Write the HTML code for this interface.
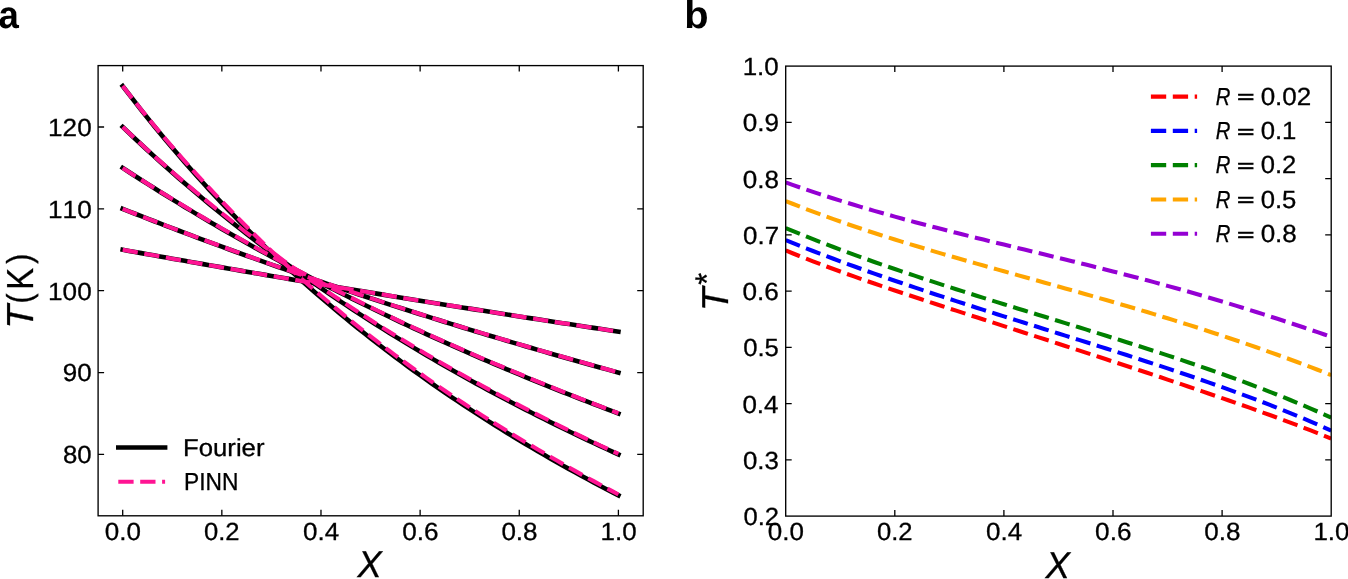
<!DOCTYPE html>
<html lang="en"><head><meta charset="utf-8"><title>Figure</title>
<style>
html,body{margin:0;padding:0;background:#fff}
body{width:1348px;height:579px;overflow:hidden}
svg{display:block;will-change:transform}
text{font-family:"Liberation Sans",sans-serif;fill:#000;font-kerning:none;text-rendering:geometricPrecision}
text.r,text.i{stroke:#000;stroke-width:.3px}
text.i{font-style:italic}
text.b{font-weight:bold}
</style></head><body>
<svg width="1348" height="579" viewBox="0 0 1348 579" role="img" aria-label="Two-panel chart: (a) T(K) vs X, Fourier vs PINN; (b) T* vs X for several R">
<rect x="0" y="0" width="1348" height="579" fill="#fff"/>
<defs>
<clipPath id="cb"><rect x="785.7" y="66.1" width="545.50" height="450.00"/></clipPath>
</defs>
<polyline points="122.70,249.77 128.90,250.89 135.09,252.01 141.29,253.13 147.49,254.24 153.68,255.35 159.88,256.46 166.07,257.56 172.27,258.67 178.47,259.76 184.66,260.86 190.86,261.96 197.06,263.05 203.25,264.14 209.45,265.22 215.64,266.31 221.84,267.39 228.04,268.47 234.23,269.54 240.43,270.62 246.62,271.69 252.82,272.76 259.02,273.82 265.21,274.89 271.41,275.95 277.61,277.01 283.80,278.06 290.00,279.12 296.19,280.17 302.39,281.22 308.59,282.26 314.78,283.31 320.98,284.35 327.18,285.39 333.37,286.42 339.57,287.46 345.76,288.49 351.96,289.52 358.16,290.55 364.35,291.57 370.55,292.59 376.75,293.61 382.94,294.63 389.14,295.65 395.33,296.66 401.53,297.67 407.73,298.68 413.92,299.68 420.12,300.69 426.32,301.69 432.51,302.69 438.71,303.68 444.90,304.68 451.10,305.67 457.30,306.66 463.49,307.65 469.69,308.63 475.89,309.62 482.08,310.60 488.28,311.58 494.47,312.55 500.67,313.53 506.87,314.50 513.06,315.47 519.26,316.44 525.46,317.40 531.65,318.36 537.85,319.33 544.04,320.29 550.24,321.24 556.44,322.20 562.63,323.15 568.83,324.10 575.03,325.05 581.22,325.99 587.42,326.94 593.62,327.88 599.81,328.82 606.01,329.76 612.20,330.69 618.40,331.63" fill="none" stroke="#000" stroke-width="4.6" stroke-linecap="square" stroke-linejoin="round"/>
<polyline points="122.70,208.85 128.90,211.30 135.09,213.75 141.29,216.18 147.49,218.60 153.68,221.00 159.88,223.40 166.07,225.78 172.27,228.16 178.47,230.52 184.66,232.86 190.86,235.20 197.06,237.53 203.25,239.84 209.45,242.14 215.64,244.43 221.84,246.71 228.04,248.98 234.23,251.24 240.43,253.49 246.62,255.72 252.82,257.95 259.02,260.16 265.21,262.37 271.41,264.56 277.61,266.74 283.80,268.92 290.00,271.08 296.19,273.23 302.39,275.37 308.59,277.50 314.78,279.62 320.98,281.74 327.18,283.84 333.37,285.93 339.57,288.01 345.76,290.08 351.96,292.15 358.16,294.20 364.35,296.24 370.55,298.28 376.75,300.30 382.94,302.32 389.14,304.32 395.33,306.32 401.53,308.31 407.73,310.28 413.92,312.25 420.12,314.22 426.32,316.17 432.51,318.11 438.71,320.04 444.90,321.97 451.10,323.89 457.30,325.79 463.49,327.69 469.69,329.58 475.89,331.47 482.08,333.34 488.28,335.21 494.47,337.06 500.67,338.91 506.87,340.75 513.06,342.59 519.26,344.41 525.46,346.23 531.65,348.04 537.85,349.84 544.04,351.63 550.24,353.42 556.44,355.20 562.63,356.97 568.83,358.73 575.03,360.48 581.22,362.23 587.42,363.97 593.62,365.70 599.81,367.43 606.01,369.14 612.20,370.85 618.40,372.55" fill="none" stroke="#000" stroke-width="4.6" stroke-linecap="square" stroke-linejoin="round"/>
<polyline points="122.70,167.92 128.90,171.96 135.09,175.97 141.29,179.94 147.49,183.89 153.68,187.80 159.88,191.68 166.07,195.54 172.27,199.36 178.47,203.15 184.66,206.92 190.86,210.65 197.06,214.36 203.25,218.04 209.45,221.69 215.64,225.31 221.84,228.91 228.04,232.48 234.23,236.02 240.43,239.54 246.62,243.03 252.82,246.49 259.02,249.93 265.21,253.35 271.41,256.74 277.61,260.10 283.80,263.44 290.00,266.75 296.19,270.04 302.39,273.31 308.59,276.56 314.78,279.78 320.98,282.97 327.18,286.15 333.37,289.30 339.57,292.43 345.76,295.54 351.96,298.63 358.16,301.69 364.35,304.74 370.55,307.76 376.75,310.76 382.94,313.74 389.14,316.70 395.33,319.64 401.53,322.56 407.73,325.46 413.92,328.34 420.12,331.20 426.32,334.04 432.51,336.86 438.71,339.67 444.90,342.45 451.10,345.22 457.30,347.97 463.49,350.69 469.69,353.41 475.89,356.10 482.08,358.78 488.28,361.43 494.47,364.07 500.67,366.70 506.87,369.30 513.06,371.89 519.26,374.47 525.46,377.02 531.65,379.56 537.85,382.09 544.04,384.59 550.24,387.09 556.44,389.56 562.63,392.02 568.83,394.47 575.03,396.90 581.22,399.31 587.42,401.71 593.62,404.09 599.81,406.46 606.01,408.82 612.20,411.16 618.40,413.48" fill="none" stroke="#000" stroke-width="4.6" stroke-linecap="square" stroke-linejoin="round"/>
<polyline points="122.70,126.99 128.90,132.90 135.09,138.75 141.29,144.53 147.49,150.25 153.68,155.90 159.88,161.49 166.07,167.03 172.27,172.50 178.47,177.92 184.66,183.28 190.86,188.58 197.06,193.82 203.25,199.01 209.45,204.15 215.64,209.23 221.84,214.26 228.04,219.24 234.23,224.17 240.43,229.04 246.62,233.87 252.82,238.65 259.02,243.38 265.21,248.06 271.41,252.70 277.61,257.29 283.80,261.84 290.00,266.34 296.19,270.79 302.39,275.21 308.59,279.58 314.78,283.91 320.98,288.19 327.18,292.44 333.37,296.64 339.57,300.81 345.76,304.94 351.96,309.02 358.16,313.07 364.35,317.08 370.55,321.06 376.75,325.00 382.94,328.90 389.14,332.76 395.33,336.59 401.53,340.39 407.73,344.15 413.92,347.88 420.12,351.57 426.32,355.23 432.51,358.86 438.71,362.45 444.90,366.02 451.10,369.55 457.30,373.05 463.49,376.52 469.69,379.97 475.89,383.38 482.08,386.76 488.28,390.11 494.47,393.44 500.67,396.73 506.87,400.00 513.06,403.24 519.26,406.45 525.46,409.64 531.65,412.80 537.85,415.93 544.04,419.04 550.24,422.12 556.44,425.18 562.63,428.21 568.83,431.21 575.03,434.20 581.22,437.15 587.42,440.09 593.62,443.00 599.81,445.89 606.01,448.75 612.20,451.59 618.40,454.41" fill="none" stroke="#000" stroke-width="4.6" stroke-linecap="square" stroke-linejoin="round"/>
<polyline points="122.70,86.06 128.90,94.18 135.09,102.19 141.29,110.07 147.49,117.85 153.68,125.51 159.88,133.06 166.07,140.51 172.27,147.85 178.47,155.09 184.66,162.23 190.86,169.27 197.06,176.22 203.25,183.07 209.45,189.83 215.64,196.50 221.84,203.08 228.04,209.57 234.23,215.97 240.43,222.30 246.62,228.54 252.82,234.70 259.02,240.78 265.21,246.78 271.41,252.70 277.61,258.56 283.80,264.33 290.00,270.04 296.19,275.67 302.39,281.24 308.59,286.74 314.78,292.17 320.98,297.53 327.18,302.83 333.37,308.06 339.57,313.24 345.76,318.35 351.96,323.40 358.16,328.39 364.35,333.32 370.55,338.20 376.75,343.02 382.94,347.78 389.14,352.49 395.33,357.15 401.53,361.75 407.73,366.30 413.92,370.80 420.12,375.25 426.32,379.65 432.51,384.00 438.71,388.31 444.90,392.57 451.10,396.78 457.30,400.94 463.49,405.06 469.69,409.14 475.89,413.17 482.08,417.16 488.28,421.11 494.47,425.02 500.67,428.89 506.87,432.71 513.06,436.50 519.26,440.24 525.46,443.95 531.65,447.62 537.85,451.26 544.04,454.85 550.24,458.41 556.44,461.94 562.63,465.43 568.83,468.88 575.03,472.31 581.22,475.69 587.42,479.05 593.62,482.37 599.81,485.66 606.01,488.92 612.20,492.14 618.40,495.34" fill="none" stroke="#000" stroke-width="4.6" stroke-linecap="square" stroke-linejoin="round"/>
<polyline points="122.70,249.77 128.90,250.89 135.09,252.01 141.29,253.12 147.49,254.23 153.68,255.34 159.88,256.45 166.07,257.55 172.27,258.65 178.47,259.75 184.66,260.84 190.86,261.93 197.06,263.02 203.25,264.11 209.45,265.20 215.64,266.28 221.84,267.36 228.04,268.44 234.23,269.51 240.43,270.59 246.62,271.66 252.82,272.73 259.02,273.79 265.21,274.86 271.41,275.92 277.61,276.97 283.80,278.03 290.00,279.08 296.19,280.14 302.39,281.18 308.59,282.23 314.78,283.27 320.98,284.32 327.18,285.36 333.37,286.39 339.57,287.43 345.76,288.46 351.96,289.49 358.16,290.51 364.35,291.54 370.55,292.56 376.75,293.58 382.94,294.60 389.14,295.61 395.33,296.63 401.53,297.64 407.73,298.65 413.92,299.65 420.12,300.65 426.32,301.66 432.51,302.65 438.71,303.65 444.90,304.65 451.10,305.64 457.30,306.63 463.49,307.62 469.69,308.60 475.89,309.58 482.08,310.56 488.28,311.54 494.47,312.52 500.67,313.49 506.87,314.47 513.06,315.44 519.26,316.40 525.46,317.37 531.65,318.33 537.85,319.29 544.04,320.25 550.24,321.21 556.44,322.17 562.63,323.12 568.83,324.07 575.03,325.02 581.22,325.97 587.42,326.92 593.62,327.86 599.81,328.80 606.01,329.74 612.20,330.68 618.40,331.61" fill="none" stroke="#ff1493" stroke-width="4.1" stroke-dasharray="15.3,6.6" stroke-linejoin="round"/>
<polyline points="122.70,208.85 128.90,211.29 135.09,213.72 141.29,216.14 147.49,218.55 153.68,220.95 159.88,223.33 166.07,225.70 172.27,228.06 178.47,230.41 184.66,232.75 190.86,235.07 197.06,237.39 203.25,239.69 209.45,241.98 215.64,244.26 221.84,246.53 228.04,248.80 234.23,251.06 240.43,253.30 246.62,255.54 252.82,257.77 259.02,259.98 265.21,262.18 271.41,264.38 277.61,266.56 283.80,268.73 290.00,270.90 296.19,273.05 302.39,275.19 308.59,277.32 314.78,279.44 320.98,281.55 327.18,283.65 333.37,285.75 339.57,287.83 345.76,289.90 351.96,291.96 358.16,294.02 364.35,296.06 370.55,298.09 376.75,300.12 382.94,302.13 389.14,304.14 395.33,306.14 401.53,308.12 407.73,310.10 413.92,312.07 420.12,314.03 426.32,315.98 432.51,317.93 438.71,319.86 444.90,321.79 451.10,323.70 457.30,325.61 463.49,327.51 469.69,329.40 475.89,331.28 482.08,333.16 488.28,335.02 494.47,336.88 500.67,338.73 506.87,340.57 513.06,342.41 519.26,344.23 525.46,346.05 531.65,347.86 537.85,349.66 544.04,351.45 550.24,353.24 556.44,355.03 562.63,356.81 568.83,358.58 575.03,360.34 581.22,362.09 587.42,363.84 593.62,365.58 599.81,367.31 606.01,369.04 612.20,370.75 618.40,372.46" fill="none" stroke="#ff1493" stroke-width="4.1" stroke-dasharray="15.3,6.6" stroke-linejoin="round"/>
<polyline points="122.70,167.92 128.90,171.93 135.09,175.90 141.29,179.85 147.49,183.76 153.68,187.64 159.88,191.49 166.07,195.32 172.27,199.11 178.47,202.87 184.66,206.60 190.86,210.31 197.06,213.98 203.25,217.63 209.45,221.25 215.64,224.84 221.84,228.41 228.04,231.98 234.23,235.52 240.43,239.04 246.62,242.53 252.82,245.99 259.02,249.43 265.21,252.84 271.41,256.23 277.61,259.60 283.80,262.94 290.00,266.25 296.19,269.54 302.39,272.81 308.59,276.05 314.78,279.27 320.98,282.47 327.18,285.65 333.37,288.80 339.57,291.93 345.76,295.04 351.96,298.13 358.16,301.19 364.35,304.23 370.55,307.26 376.75,310.26 382.94,313.24 389.14,316.20 395.33,319.14 401.53,322.06 407.73,324.96 413.92,327.84 420.12,330.70 426.32,333.54 432.51,336.36 438.71,339.17 444.90,341.95 451.10,344.72 457.30,347.46 463.49,350.19 469.69,352.90 475.89,355.60 482.08,358.27 488.28,360.93 494.47,363.57 500.67,366.20 506.87,368.80 513.06,371.39 519.26,373.96 525.46,376.52 531.65,379.06 537.85,381.58 544.04,384.09 550.24,386.60 556.44,389.10 562.63,391.58 568.83,394.05 575.03,396.50 581.22,398.93 587.42,401.35 593.62,403.76 599.81,406.15 606.01,408.52 612.20,410.88 618.40,413.23" fill="none" stroke="#ff1493" stroke-width="4.1" stroke-dasharray="15.3,6.6" stroke-linejoin="round"/>
<polyline points="122.70,126.99 128.90,132.84 135.09,138.62 141.29,144.33 147.49,149.99 153.68,155.58 159.88,161.11 166.07,166.58 172.27,171.99 178.47,177.34 184.66,182.63 190.86,187.87 197.06,193.05 203.25,198.17 209.45,203.25 215.64,208.26 221.84,213.23 228.04,218.21 234.23,223.13 240.43,228.01 246.62,232.84 252.82,237.62 259.02,242.35 265.21,247.03 271.41,251.67 277.61,256.26 283.80,260.81 290.00,265.31 296.19,269.76 302.39,274.18 308.59,278.55 314.78,282.88 320.98,287.16 327.18,291.41 333.37,295.61 339.57,299.78 345.76,303.91 351.96,307.99 358.16,312.04 364.35,316.05 370.55,320.03 376.75,323.96 382.94,327.87 389.14,331.73 395.33,335.56 401.53,339.36 407.73,343.12 413.92,346.84 420.12,350.54 426.32,354.20 432.51,357.83 438.71,361.42 444.90,364.99 451.10,368.52 457.30,372.02 463.49,375.49 469.69,378.93 475.89,382.35 482.08,385.73 488.28,389.08 494.47,392.40 500.67,395.70 506.87,398.97 513.06,402.21 519.26,405.42 525.46,408.61 531.65,411.77 537.85,414.90 544.04,418.01 550.24,421.13 556.44,424.23 562.63,427.31 568.83,430.36 575.03,433.38 581.22,436.38 587.42,439.36 593.62,442.31 599.81,445.24 606.01,448.15 612.20,451.03 618.40,453.89" fill="none" stroke="#ff1493" stroke-width="4.1" stroke-dasharray="15.3,6.6" stroke-linejoin="round"/>
<polyline points="122.70,86.06 128.90,94.07 135.09,101.96 141.29,109.74 147.49,117.40 153.68,124.95 159.88,132.39 166.07,139.72 172.27,146.95 178.47,154.08 184.66,161.11 190.86,168.04 197.06,174.87 203.25,181.61 209.45,188.25 215.64,194.81 221.84,201.28 228.04,207.77 234.23,214.17 240.43,220.50 246.62,226.74 252.82,232.90 259.02,238.98 265.21,244.98 271.41,250.90 277.61,256.76 283.80,262.53 290.00,268.24 296.19,273.87 302.39,279.44 308.59,284.93 314.78,290.36 320.98,295.73 327.18,301.03 333.37,306.26 339.57,311.43 345.76,316.55 351.96,321.60 358.16,326.59 364.35,331.52 370.55,336.40 376.75,341.22 382.94,345.98 389.14,350.69 395.33,355.35 401.53,359.95 407.73,364.50 413.92,369.00 420.12,373.45 426.32,377.85 432.51,382.20 438.71,386.51 444.90,390.77 451.10,394.98 457.30,399.14 463.49,403.26 469.69,407.34 475.89,411.37 482.08,415.36 488.28,419.31 494.47,423.22 500.67,427.08 506.87,430.91 513.06,434.70 519.26,438.44 525.46,442.15 531.65,445.82 537.85,449.46 544.04,453.05 550.24,456.69 556.44,460.29 562.63,463.85 568.83,467.38 575.03,470.88 581.22,474.34 587.42,477.77 593.62,481.17 599.81,484.53 606.01,487.86 612.20,491.17 618.40,494.44" fill="none" stroke="#ff1493" stroke-width="4.1" stroke-dasharray="15.3,6.6" stroke-linejoin="round"/>
<g clip-path="url(#cb)">
<polyline points="785.70,250.43 792.52,253.23 799.34,255.98 806.16,258.68 812.98,261.33 819.79,263.93 826.61,266.50 833.43,269.02 840.25,271.52 847.07,273.97 853.89,276.40 860.71,278.81 867.53,281.18 874.34,283.54 881.16,285.87 887.98,288.19 894.80,290.49 901.62,292.77 908.44,295.04 915.26,297.30 922.08,299.55 928.89,301.79 935.71,304.02 942.53,306.24 949.35,308.46 956.17,310.67 962.99,312.88 969.81,315.09 976.62,317.29 983.44,319.49 990.26,321.69 997.08,323.89 1003.90,326.09 1010.72,328.29 1017.54,330.49 1024.36,332.69 1031.17,334.90 1037.99,337.10 1044.81,339.31 1051.63,341.52 1058.45,343.73 1065.27,345.94 1072.09,348.16 1078.91,350.38 1085.73,352.60 1092.54,354.83 1099.36,357.06 1106.18,359.29 1113.00,361.53 1119.82,363.77 1126.64,366.01 1133.46,368.27 1140.28,370.52 1147.09,372.78 1153.91,375.05 1160.73,377.32 1167.55,379.60 1174.37,381.89 1181.19,384.18 1188.01,386.48 1194.83,388.79 1201.64,391.11 1208.46,393.44 1215.28,395.78 1222.10,398.14 1228.92,400.50 1235.74,402.88 1242.56,405.28 1249.38,407.69 1256.19,410.13 1263.01,412.58 1269.83,415.05 1276.65,417.54 1283.47,420.06 1290.29,422.61 1297.11,425.18 1303.93,427.79 1310.74,430.42 1317.56,433.10 1324.38,435.81 1331.20,438.56" fill="none" stroke="#ff0000" stroke-width="4.1" stroke-dasharray="15.3,6.6" stroke-linejoin="round"/>
<polyline points="785.70,240.10 792.52,242.87 799.34,245.61 806.16,248.31 812.98,250.97 819.79,253.60 826.61,256.20 833.43,258.77 840.25,261.31 847.07,263.82 853.89,266.30 860.71,268.76 867.53,271.19 874.34,273.61 881.16,275.99 887.98,278.36 894.80,280.71 901.62,283.04 908.44,285.35 915.26,287.65 922.08,289.92 928.89,292.19 935.71,294.44 942.53,296.67 949.35,298.90 956.17,301.11 962.99,303.31 969.81,305.51 976.62,307.69 983.44,309.87 990.26,312.03 997.08,314.20 1003.90,316.35 1010.72,318.50 1017.54,320.65 1024.36,322.79 1031.17,324.93 1037.99,327.07 1044.81,329.21 1051.63,331.35 1058.45,333.49 1065.27,335.62 1072.09,337.76 1078.91,339.91 1085.73,342.05 1092.54,344.21 1099.36,346.36 1106.18,348.53 1113.00,350.70 1119.82,352.87 1126.64,355.06 1133.46,357.25 1140.28,359.46 1147.09,361.68 1153.91,363.91 1160.73,366.16 1167.55,368.42 1174.37,370.69 1181.19,372.98 1188.01,375.29 1194.83,377.62 1201.64,379.97 1208.46,382.35 1215.28,384.74 1222.10,387.16 1228.92,389.61 1235.74,392.08 1242.56,394.59 1249.38,397.12 1256.19,399.69 1263.01,402.29 1269.83,404.92 1276.65,407.59 1283.47,410.31 1290.29,413.06 1297.11,415.85 1303.93,418.69 1310.74,421.58 1317.56,424.52 1324.38,427.51 1331.20,430.55" fill="none" stroke="#0000ff" stroke-width="4.1" stroke-dasharray="15.3,6.6" stroke-linejoin="round"/>
<polyline points="785.70,228.06 792.52,230.89 799.34,233.68 806.16,236.43 812.98,239.14 819.79,241.81 826.61,244.44 833.43,247.04 840.25,249.60 847.07,252.13 853.89,254.63 860.71,257.10 867.53,259.54 874.34,261.95 881.16,264.34 887.98,266.70 894.80,269.04 901.62,271.36 908.44,273.65 915.26,275.93 922.08,278.19 928.89,280.43 935.71,282.65 942.53,284.86 949.35,287.05 956.17,289.24 962.99,291.40 969.81,293.56 976.62,295.71 983.44,297.85 990.26,299.98 997.08,302.10 1003.90,304.21 1010.72,306.32 1017.54,308.43 1024.36,310.53 1031.17,312.63 1037.99,314.72 1044.81,316.82 1051.63,318.91 1058.45,321.01 1065.27,323.10 1072.09,325.20 1078.91,327.31 1085.73,329.41 1092.54,331.53 1099.36,333.64 1106.18,335.77 1113.00,337.90 1119.82,340.05 1126.64,342.20 1133.46,344.36 1140.28,346.54 1147.09,348.73 1153.91,350.93 1160.73,353.15 1167.55,355.39 1174.37,357.64 1181.19,359.92 1188.01,362.21 1194.83,364.53 1201.64,366.86 1208.46,369.23 1215.28,371.61 1222.10,374.03 1228.92,376.47 1235.74,378.94 1242.56,381.45 1249.38,383.98 1256.19,386.55 1263.01,389.16 1269.83,391.81 1276.65,394.49 1283.47,397.22 1290.29,399.99 1297.11,402.80 1303.93,405.66 1310.74,408.58 1317.56,411.54 1324.38,414.56 1331.20,417.63" fill="none" stroke="#008000" stroke-width="4.1" stroke-dasharray="15.3,6.6" stroke-linejoin="round"/>
<polyline points="785.70,201.03 792.52,203.77 799.34,206.45 806.16,209.07 812.98,211.65 819.79,214.19 826.61,216.68 833.43,219.12 840.25,221.53 847.07,223.89 853.89,226.22 860.71,228.51 867.53,230.77 874.34,233.00 881.16,235.19 887.98,237.36 894.80,239.50 901.62,241.61 908.44,243.71 915.26,245.78 922.08,247.82 928.89,249.85 935.71,251.86 942.53,253.86 949.35,255.84 956.17,257.81 962.99,259.76 969.81,261.70 976.62,263.64 983.44,265.56 990.26,267.48 997.08,269.39 1003.90,271.30 1010.72,273.20 1017.54,275.10 1024.36,277.00 1031.17,278.90 1037.99,280.80 1044.81,282.70 1051.63,284.61 1058.45,286.52 1065.27,288.43 1072.09,290.35 1078.91,292.27 1085.73,294.21 1092.54,296.15 1099.36,298.10 1106.18,300.06 1113.00,302.03 1119.82,304.01 1126.64,306.01 1133.46,308.02 1140.28,310.04 1147.09,312.08 1153.91,314.13 1160.73,316.20 1167.55,318.29 1174.37,320.39 1181.19,322.52 1188.01,324.66 1194.83,326.82 1201.64,329.00 1208.46,331.20 1215.28,333.43 1222.10,335.67 1228.92,337.94 1235.74,340.23 1242.56,342.55 1249.38,344.89 1256.19,347.25 1263.01,349.64 1269.83,352.06 1276.65,354.50 1283.47,356.97 1290.29,359.47 1297.11,362.00 1303.93,364.55 1310.74,367.13 1317.56,369.75 1324.38,372.39 1331.20,375.06" fill="none" stroke="#ffa500" stroke-width="4.1" stroke-dasharray="15.3,6.6" stroke-linejoin="round"/>
<polyline points="785.70,182.43 792.52,184.84 799.34,187.21 806.16,189.54 812.98,191.83 819.79,194.08 826.61,196.29 833.43,198.47 840.25,200.62 847.07,202.73 853.89,204.80 860.71,206.85 867.53,208.86 874.34,210.85 881.16,212.81 887.98,214.74 894.80,216.64 901.62,218.52 908.44,220.37 915.26,222.21 922.08,224.02 928.89,225.81 935.71,227.59 942.53,229.34 949.35,231.08 956.17,232.81 962.99,234.52 969.81,236.22 976.62,237.91 983.44,239.60 990.26,241.27 997.08,242.93 1003.90,244.60 1010.72,246.25 1017.54,247.91 1024.36,249.56 1031.17,251.21 1037.99,252.86 1044.81,254.52 1051.63,256.17 1058.45,257.83 1065.27,259.50 1072.09,261.18 1078.91,262.86 1085.73,264.55 1092.54,266.25 1099.36,267.96 1106.18,269.68 1113.00,271.42 1119.82,273.17 1126.64,274.93 1133.46,276.71 1140.28,278.50 1147.09,280.31 1153.91,282.14 1160.73,283.99 1167.55,285.86 1174.37,287.74 1181.19,289.65 1188.01,291.57 1194.83,293.52 1201.64,295.49 1208.46,297.47 1215.28,299.48 1222.10,301.51 1228.92,303.57 1235.74,305.64 1242.56,307.74 1249.38,309.86 1256.19,312.00 1263.01,314.16 1269.83,316.34 1276.65,318.54 1283.47,320.76 1290.29,323.00 1297.11,325.26 1303.93,327.54 1310.74,329.84 1317.56,332.15 1324.38,334.48 1331.20,336.82" fill="none" stroke="#9400d3" stroke-width="4.1" stroke-dasharray="15.3,6.6" stroke-linejoin="round"/>
</g>
<rect x="98.1" y="65.6" width="545.10" height="450.20" fill="none" stroke="#000" stroke-width="1.35"/>
<path d="M122.70,515.8v-6.0M122.70,65.6v6.0M221.84,515.8v-6.0M221.84,65.6v6.0M320.98,515.8v-6.0M320.98,65.6v6.0M420.12,515.8v-6.0M420.12,65.6v6.0M519.26,515.8v-6.0M519.26,65.6v6.0M618.40,515.8v-6.0M618.40,65.6v6.0M98.1,454.41h6.0M643.2,454.41h-6.0M98.1,372.55h6.0M643.2,372.55h-6.0M98.1,290.70h6.0M643.2,290.70h-6.0M98.1,208.85h6.0M643.2,208.85h-6.0M98.1,126.99h6.0M643.2,126.99h-6.0" fill="none" stroke="#000" stroke-width="1.3"/>
<rect x="785.7" y="66.1" width="545.50" height="450.00" fill="none" stroke="#000" stroke-width="1.35"/>
<path d="M894.80,516.1v-6.0M894.80,66.1v6.0M1003.90,516.1v-6.0M1003.90,66.1v6.0M1113.00,516.1v-6.0M1113.00,66.1v6.0M1222.10,516.1v-6.0M1222.10,66.1v6.0M785.7,459.85h6.0M1331.2,459.85h-6.0M785.7,403.60h6.0M1331.2,403.60h-6.0M785.7,347.35h6.0M1331.2,347.35h-6.0M785.7,291.10h6.0M1331.2,291.10h-6.0M785.7,234.85h6.0M1331.2,234.85h-6.0M785.7,178.60h6.0M1331.2,178.60h-6.0M785.7,122.35h6.0M1331.2,122.35h-6.0" fill="none" stroke="#000" stroke-width="1.3"/>
<text class="r" font-size="24.79" transform="translate(104.82,539.70) scale(1.0488,1)">0.0</text>
<text class="r" font-size="24.79" transform="translate(203.98,539.70) scale(1.0332,1)">0.2</text>
<text class="r" font-size="24.79" transform="translate(303.10,539.70) scale(1.0484,1)">0.4</text>
<text class="r" font-size="24.79" transform="translate(402.24,539.70) scale(1.0552,1)">0.6</text>
<text class="r" font-size="24.79" transform="translate(501.38,539.70) scale(1.0509,1)">0.8</text>
<text class="r" font-size="24.79" transform="translate(600.60,539.70) scale(1.0465,1)">1.0</text>
<text class="r" font-size="24.79" transform="translate(62.97,463.26) scale(1.0406,1)">80</text>
<text class="r" font-size="24.79" transform="translate(62.76,381.40) scale(1.0486,1)">90</text>
<text class="r" font-size="24.79" transform="translate(48.07,299.55) scale(1.0541,1)">100</text>
<text class="r" font-size="24.79" transform="translate(48.07,217.70) scale(1.0541,1)">110</text>
<text class="r" font-size="24.79" transform="translate(48.07,135.84) scale(1.0541,1)">120</text>
<text class="r" font-size="24.79" transform="translate(767.82,540.10) scale(1.0488,1)">0.0</text>
<text class="r" font-size="24.79" transform="translate(876.94,540.10) scale(1.0332,1)">0.2</text>
<text class="r" font-size="24.79" transform="translate(986.02,540.10) scale(1.0484,1)">0.4</text>
<text class="r" font-size="24.79" transform="translate(1095.12,540.10) scale(1.0552,1)">0.6</text>
<text class="r" font-size="24.79" transform="translate(1204.22,540.10) scale(1.0509,1)">0.8</text>
<text class="r" font-size="24.79" transform="translate(1313.40,540.10) scale(1.0465,1)">1.0</text>
<text class="r" font-size="24.79" transform="translate(743.44,525.10) scale(1.0332,1)">0.2</text>
<text class="r" font-size="24.79" transform="translate(742.95,468.85) scale(1.0428,1)">0.3</text>
<text class="r" font-size="24.79" transform="translate(742.38,412.60) scale(1.0484,1)">0.4</text>
<text class="r" font-size="24.79" transform="translate(743.13,356.35) scale(1.0359,1)">0.5</text>
<text class="r" font-size="24.79" transform="translate(742.54,300.10) scale(1.0552,1)">0.6</text>
<text class="r" font-size="24.79" transform="translate(743.08,243.85) scale(1.0439,1)">0.7</text>
<text class="r" font-size="24.79" transform="translate(742.67,187.60) scale(1.0509,1)">0.8</text>
<text class="r" font-size="24.79" transform="translate(742.71,131.35) scale(1.0526,1)">0.9</text>
<text class="r" font-size="24.79" transform="translate(742.70,75.10) scale(1.0465,1)">1.0</text>
<text class="i" font-size="37.36" transform="translate(357.44,577.40) scale(0.9741,1)">X</text>
<text class="i" font-size="37.36" transform="translate(1045.55,578.20) scale(0.9815,1)">X</text>
<g transform="translate(33.1,325.3) rotate(-90)">
<text class="i" font-size="37.65" transform="translate(-3.33,-0.15) scale(1.0303,1)">T</text>
<text class="r" font-size="34.56" transform="translate(21.78,-2.41) scale(0.8730,1)">(</text>
<text class="r" font-size="37.65" transform="translate(35.46,-0.15) scale(0.8704,1)">K</text>
<text class="r" font-size="34.56" transform="translate(61.47,-2.41) scale(0.8730,1)">)</text>
</g>
<g transform="translate(727.9,307.9) rotate(-90)">
<text class="i" font-size="37.50" transform="translate(-3.30,-0.15) scale(1.0251,1)">T</text>
<text class="r" font-size="32.76" transform="translate(23.16,-10.01) scale(0.9310,1)">*</text>
</g>
<text class="b" font-size="38.50" transform="translate(-1.57,27.80) scale(0.9500,1)">a</text>
<text class="b" font-size="38.50" transform="translate(684.20,27.70) scale(1.0350,1)">b</text>
<path d="M118.3,447.5H165.1" stroke="#000" stroke-width="4.6" stroke-linecap="square" fill="none"/>
<path d="M118.3,481.8H165.1" stroke="#ff1493" stroke-width="4.1" stroke-dasharray="15.3,6.6" fill="none"/>
<text class="r" font-size="24.46" transform="translate(183.04,455.70) scale(1.0510,1)">Fourier</text>
<text class="r" font-size="24.57" transform="translate(183.98,490.20) scale(0.9271,1)">PINN</text>
<path d="M1150.9,96.60H1197.1" stroke="#ff0000" stroke-width="4.1" stroke-dasharray="15.3,6.6" fill="none"/>
<text class="i" font-size="24.57" transform="translate(1215.63,104.80) scale(0.8255,1)">R</text>
<text class="r" style="stroke-width:0.75px" font-size="18.34" transform="translate(1237.14,103.45) scale(1.5994,1)">=</text>
<text class="r" font-size="24.79" transform="translate(1260.63,104.80) scale(1.0500,1)">0.02</text>
<path d="M1150.9,130.88H1197.1" stroke="#0000ff" stroke-width="4.1" stroke-dasharray="15.3,6.6" fill="none"/>
<text class="i" font-size="24.57" transform="translate(1215.63,139.08) scale(0.8255,1)">R</text>
<text class="r" style="stroke-width:0.75px" font-size="18.34" transform="translate(1237.14,137.73) scale(1.5994,1)">=</text>
<text class="r" font-size="24.79" transform="translate(1260.65,139.08) scale(1.0378,1)">0.1</text>
<path d="M1150.9,165.16H1197.1" stroke="#008000" stroke-width="4.1" stroke-dasharray="15.3,6.6" fill="none"/>
<text class="i" font-size="24.57" transform="translate(1215.63,173.36) scale(0.8255,1)">R</text>
<text class="r" style="stroke-width:0.75px" font-size="18.34" transform="translate(1237.14,172.01) scale(1.5994,1)">=</text>
<text class="r" font-size="24.79" transform="translate(1260.65,173.36) scale(1.0332,1)">0.2</text>
<path d="M1150.9,199.44H1197.1" stroke="#ffa500" stroke-width="4.1" stroke-dasharray="15.3,6.6" fill="none"/>
<text class="i" font-size="24.57" transform="translate(1215.63,207.64) scale(0.8255,1)">R</text>
<text class="r" style="stroke-width:0.75px" font-size="18.34" transform="translate(1237.14,206.29) scale(1.5994,1)">=</text>
<text class="r" font-size="24.79" transform="translate(1260.65,207.64) scale(1.0359,1)">0.5</text>
<path d="M1150.9,233.72H1197.1" stroke="#9400d3" stroke-width="4.1" stroke-dasharray="15.3,6.6" fill="none"/>
<text class="i" font-size="24.57" transform="translate(1215.63,241.92) scale(0.8255,1)">R</text>
<text class="r" style="stroke-width:0.75px" font-size="18.34" transform="translate(1237.14,240.57) scale(1.5994,1)">=</text>
<text class="r" font-size="24.79" transform="translate(1260.63,241.92) scale(1.0509,1)">0.8</text>
</svg>
</body></html>
